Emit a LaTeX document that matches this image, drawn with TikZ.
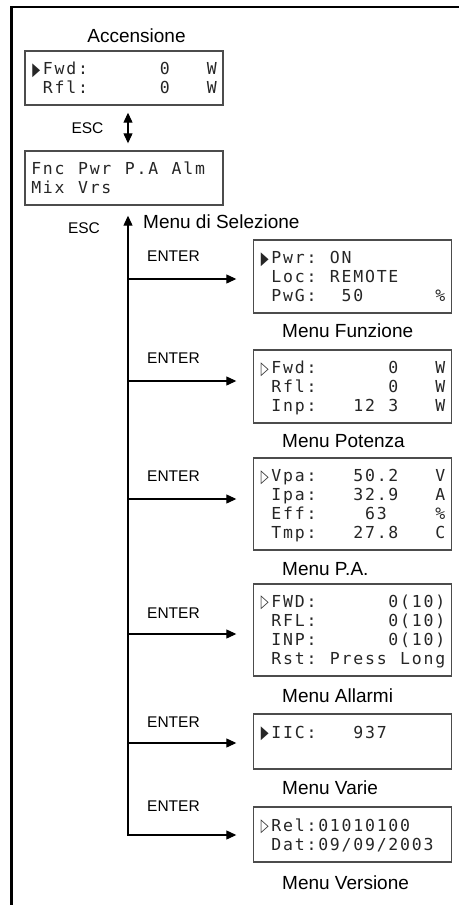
\documentclass[tikz,border=0pt]{standalone}
\usepackage{fontspec}
\usepackage{graphicx}
\setmainfont{Liberation Sans}
\newfontfamily\lcdfont{DejaVu Sans Mono}
\newfontfamily\trifont{DejaVu Sans}
\usetikzlibrary{arrows.meta}
\newdimen\lcdw \lcdw=11.7pt
\def\lcdloop#1{\ifx#1\relax\else\ifx#1_\hbox to\lcdw{\hss}\else\hbox to\lcdw{\hss#1\hss}\fi\expandafter\lcdloop\fi}
\newcommand\lcd[1]{\lcdloop#1\relax}
\newcommand\lcdline[1]{\hbox to 187.2pt{\vrule height15.5pt depth3.5pt width0pt\lcd{#1}\hss}}
\newcommand\TF{\raisebox{-0.5pt}{\scalebox{0.62}[1.1]{\trifont ▶}}}
\newcommand\TO{\raisebox{-0.5pt}{\scalebox{0.62}[1.1]{\trifont ▷}}}
\tikzset{
  lcdbox/.style={draw=black!70, line width=1.4pt, fill=white, inner sep=0pt,
    minimum width=198pt, text=black!85, font={\lcdfont\fontsize{16.5pt}{19pt}\selectfont}},
  capt/.style={inner sep=0pt, font={\fontsize{19pt}{22pt}\selectfont}},
  keyl/.style={inner sep=0pt, font={\fontsize{15.5pt}{18pt}\selectfont}},
  arr/.style={-{Triangle[length=10pt,width=9pt]}, line width=1.2pt},
  dbl/.style={{Triangle[length=10pt,width=9pt]}-{Triangle[length=10pt,width=9pt]}, line width=1.2pt}
}
\begin{document}
\begin{tikzpicture}[x=1pt,y=-1pt]
\useasboundingbox (0,0) rectangle (458,905);
% frame
\draw[line width=2.2pt] (11.4,906) -- (11.4,7) -- (459,7);
% boxes
\node[lcdbox, minimum height=54pt] (b1) at (124,78)
  {\vbox{\offinterlineskip\lcdline{\TF Fwd:______0___W}\lcdline{_Rfl:______0___W}}};
\node[lcdbox, minimum height=54pt] (b2) at (124,178)
  {\vbox{\offinterlineskip\lcdline{Fnc_Pwr_P.A_Alm}\lcdline{Mix_Vrs}}};
\node[lcdbox, minimum height=73pt] (b3) at (352.5,276.5)
  {\vbox{\offinterlineskip\lcdline{\TF Pwr:_ON}\lcdline{_Loc:_REMOTE}\lcdline{_PwG:__50______\%}}};
\node[lcdbox, minimum height=73pt] (b4) at (352.5,386.5)
  {\vbox{\offinterlineskip\lcdline{\TO Fwd:______0___W}\lcdline{_Rfl:______0___W}\lcdline{_Inp:___12_3___W}}};
\node[lcdbox, minimum height=92pt] (b5) at (352.5,504)
  {\vbox{\offinterlineskip\lcdline{\TO Vpa:___50.2___V}\lcdline{_Ipa:___32.9___A}\lcdline{_Eff:____63____\%}\lcdline{_Tmp:___27.8___C}}};
\node[lcdbox, minimum height=92pt] (b6) at (352.5,630)
  {\vbox{\offinterlineskip\lcdline{\TO FWD:______0(10)}\lcdline{_RFL:______0(10)}\lcdline{_INP:______0(10)}\lcdline{_Rst:_Press_Long}}};
\node[lcdbox, minimum height=55pt] (b7) at (352.5,741.5)
  {\vbox{\offinterlineskip\lcdline{\TF IIC:___937}\lcdline{}}};
\node[lcdbox, minimum height=55pt] (b8) at (352.5,834.5)
  {\vbox{\offinterlineskip\lcdline{\TO Rel:01010100}\lcdline{_Dat:09/09/2003}}};
% captions
\node[capt, anchor=base] (c0) at (136.5,42) {Accensione};
\node[capt, anchor=base west] (c1) at (143,228) {Menu di Selezione};
\node[capt, anchor=base west] (c3) at (282,337) {Menu Funzione};
\node[capt, anchor=base west] (c4) at (282,447) {Menu Potenza};
\node[capt, anchor=base west] (c5) at (282,575) {Menu P.A.};
\node[capt, anchor=base west] (c6) at (282,702) {Menu Allarmi};
\node[capt, anchor=base west] (c7) at (282,794) {Menu Varie};
\node[capt, anchor=base west] (c8) at (282,889) {Menu Versione};
% key labels
\node[keyl, anchor=base] (esc1) at (87.5,133) {ESC};
\node[keyl, anchor=base] (esc2) at (84,233) {ESC};
\node[keyl, anchor=base west] (en1) at (147,261) {ENTER};
\node[keyl, anchor=base west] (en2) at (147,363) {ENTER};
\node[keyl, anchor=base west] (en3) at (147,481) {ENTER};
\node[keyl, anchor=base west] (en4) at (147,618) {ENTER};
\node[keyl, anchor=base west] (en5) at (147,727) {ENTER};
\node[keyl, anchor=base west] (en6) at (147,811) {ENTER};
% connectors
\coordinate (j1) at (128,279);
\coordinate (j2) at (128,381);
\coordinate (j3) at (128,499);
\coordinate (j4) at (128,634);
\coordinate (j5) at (128,743);
\coordinate (j6) at (128,835);
\coordinate (tipx) at ([xshift=-16.5pt]b3.west);
\coordinate (e1) at ([yshift=-7pt]b1.south);
\coordinate (e2) at ([yshift=7pt]b2.north);
\coordinate (bt) at ([yshift=-10pt]b2.south);
\draw[dbl] (e1 -| j1) -- (e2 -| j1);
\draw[dbl] (bt -| j1) -- (j6) -- (j6 -| tipx);
\draw[arr] (j1) -- (j1 -| tipx);
\draw[arr] (j2) -- (j2 -| tipx);
\draw[arr] (j3) -- (j3 -| tipx);
\draw[arr] (j4) -- (j4 -| tipx);
\draw[arr] (j5) -- (j5 -| tipx);
\end{tikzpicture}
\end{document}
